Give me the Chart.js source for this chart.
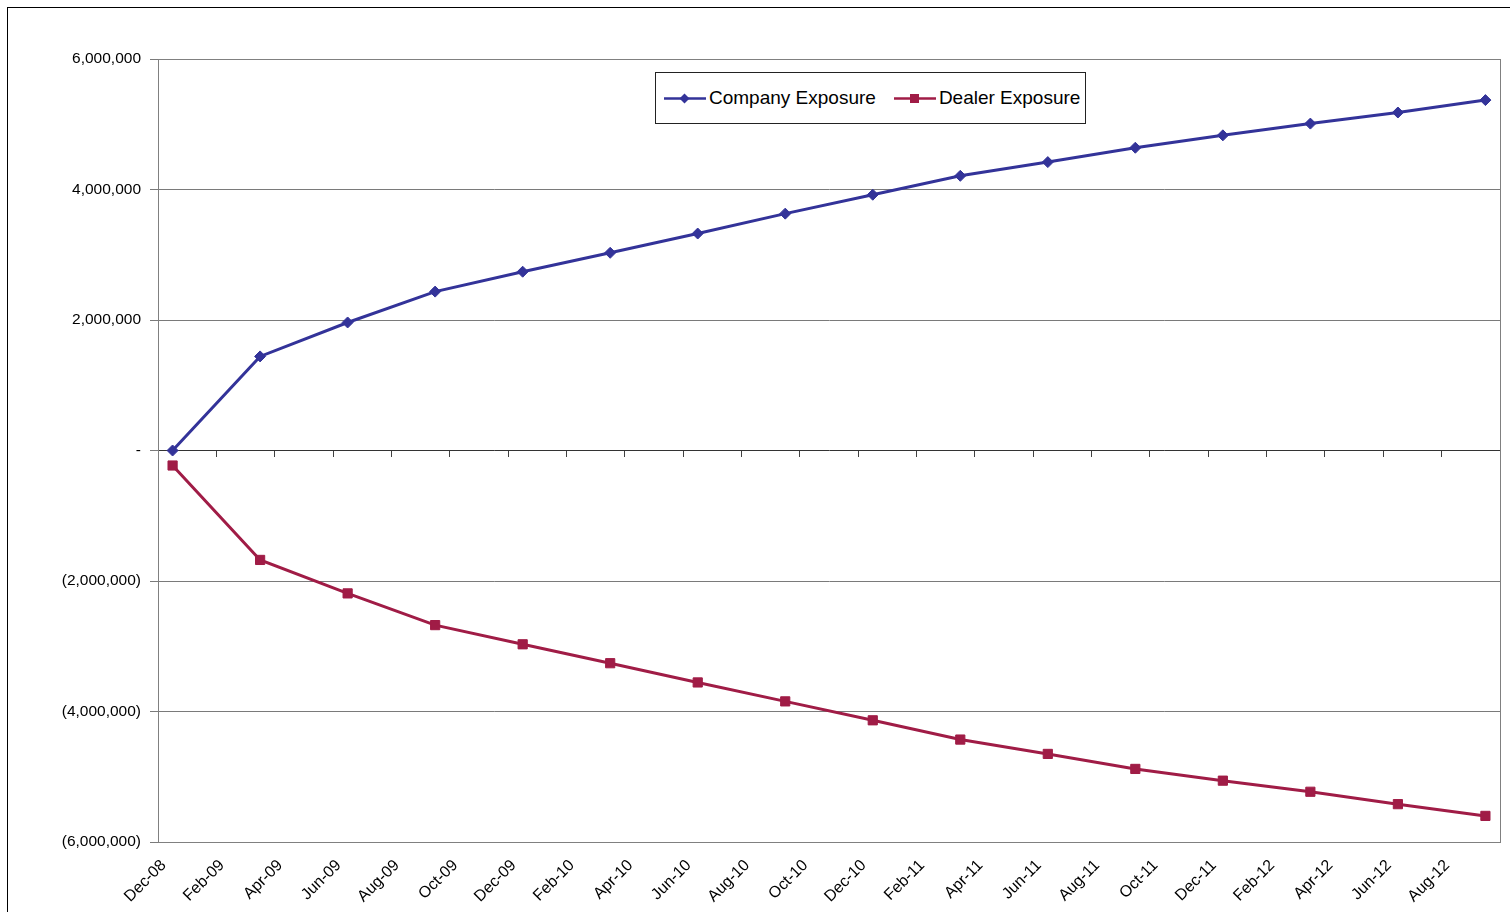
<!DOCTYPE html>
<html>
<head>
<meta charset="utf-8">
<script src="https://cdn.jsdelivr.net/npm/chart.js@4.4.1/dist/chart.umd.min.js"></script>
<style>
  html, body { margin: 0; padding: 0; background: #fff; overflow: hidden; }
  #wrap { position: relative; width: 1510px; height: 912px; }
  #frame { position: absolute; left: 7px; top: 7px; width: 1520px; height: 920px; border: 1px solid #000; }
  #chart { position: absolute; left: 0; top: 0; }
  #legend {
    position: absolute; left: 655px; top: 72px; width: 421px; height: 50px;
    border: 1px solid #222; background: #fff; white-space: nowrap; overflow: hidden;
    display: flex; align-items: center; padding-left: 8px; box-sizing: content-box;
    font-family: 'Liberation Sans', Arial, sans-serif; font-size: 19px; color: #000;
  }
  #legend .item { display: flex; align-items: center; flex-shrink: 0; margin-right: 18px; }
  #legend svg { margin-right: 3px; flex-shrink: 0; }
</style>
</head>
<body>
<div id="wrap">
  <div id="frame"></div>
  <canvas id="chart" width="1510" height="912"></canvas>
  <div id="legend"></div>
</div>
<script>
// month slots on the date axis (Dec-08 .. Sep-12)
const months = [
  'Dec-08',
  'Jan-09','Feb-09','Mar-09','Apr-09','May-09','Jun-09','Jul-09','Aug-09','Sep-09','Oct-09','Nov-09','Dec-09',
  'Jan-10','Feb-10','Mar-10','Apr-10','May-10','Jun-10','Jul-10','Aug-10','Sep-10','Oct-10','Nov-10','Dec-10',
  'Jan-11','Feb-11','Mar-11','Apr-11','May-11','Jun-11','Jul-11','Aug-11','Sep-11','Oct-11','Nov-11','Dec-11',
  'Jan-12','Feb-12','Mar-12','Apr-12','May-12','Jun-12','Jul-12','Aug-12','Sep-12'
];

// quarterly observation dates
const quarters = [
  'Dec-08','Mar-09','Jun-09','Sep-09','Dec-09','Mar-10','Jun-10','Sep-10',
  'Dec-10','Mar-11','Jun-11','Sep-11','Dec-11','Mar-12','Jun-12','Sep-12'
];

const companyExposure = [
  0, 1442000, 1962000, 2435000, 2740000, 3030000, 3325000, 3630000,
  3920000, 4210000, 4420000, 4640000, 4830000, 5010000, 5180000, 5370000
];

const dealerExposure = [
  -230000, -1677000, -2190000, -2676000, -2970000, -3260000, -3555000, -3845000,
  -4135000, -4430000, -4650000, -4880000, -5060000, -5230000, -5420000, -5600000
];

const yTicks = [-6000000, -4000000, -2000000, 0, 2000000, 4000000, 6000000];

const BLUE = '#333399';
const RED  = '#a01c46';
const FONT = "'Liberation Sans', Arial, sans-serif";

function fmtY(v) {
  if (v === 0) return '-';
  const s = Math.abs(v).toLocaleString('en-US');
  return v < 0 ? '(' + s + ')' : s;
}

// grey frame round the plot area
const plotFrame = {
  id: 'plotFrame',
  beforeDatasetsDraw(chart) {
    const a = chart.chartArea, ctx = chart.ctx;
    ctx.save();
    ctx.strokeStyle = '#808080';
    ctx.lineWidth = 1;
    ctx.strokeRect(Math.round(a.left) + 0.5, Math.round(a.top) + 0.5,
                   Math.round(a.right - a.left), Math.round(a.bottom - a.top));
    ctx.restore();
  }
};

const chart = new Chart(document.getElementById('chart'), {
  type: 'line',
  data: {
    labels: months,
    datasets: [
      {
        label: 'Company Exposure',
        data: quarters.map((q, i) => ({ x: q, y: companyExposure[i] })),
        borderColor: BLUE,
        backgroundColor: BLUE,
        borderWidth: 3,
        pointStyle: 'rectRot',
        pointRadius: 5.5,
        pointBorderWidth: 1,
        tension: 0
      },
      {
        label: 'Dealer Exposure',
        data: quarters.map((q, i) => ({ x: q, y: dealerExposure[i] })),
        borderColor: RED,
        backgroundColor: RED,
        borderWidth: 3,
        pointStyle: 'rect',
        pointRadius: 6.5,
        pointBorderWidth: 1,
        tension: 0
      }
    ]
  },
  options: {
    responsive: false,
    animation: false,
    layout: { padding: { top: 59, right: 10, left: 0, bottom: 0 } },
    plugins: {
      legend: { display: false },
      tooltip: { enabled: false }
    },
    scales: {
      x: {
        type: 'category',
        offset: true,
        grid: { display: false, drawTicks: false },
        border: { display: false },
        ticks: {
          autoSkip: false,
          maxRotation: 45,
          minRotation: 45,
          padding: 14,
          labelOffset: -9,
          color: '#000',
          font: { family: FONT, size: 16 },
          callback: function (val, i) { return i % 2 === 0 ? this.getLabelForValue(val) : ''; }
        },
        afterFit: s => { s.height = 70; s.paddingLeft = 0; s.paddingRight = 0; }
      },
      x2: {
        type: 'category',
        axis: 'x',
        position: { y: 0 },
        offset: true,
        grid: {
          display: true,
          offset: true,
          drawOnChartArea: false,
          drawTicks: true,
          tickLength: 6,
          tickColor: ctx => (ctx.index !== undefined && ctx.index % 2 === 0) ? '#404040' : 'rgba(0,0,0,0)'
        },
        border: { display: false },
        ticks: { display: false },
        afterFit: s => { s.paddingLeft = 0; s.paddingRight = 0; }
      },
      y: {
        min: -6000000,
        max: 6000000,
        afterBuildTicks: s => { s.ticks = yTicks.map(v => ({ value: v })); },
        grid: {
          color: ctx => ctx.tick && ctx.tick.value === 0 ? '#333333' : '#7a7a7a',
          lineWidth: 1,
          tickLength: 8,
          tickColor: '#7a7a7a'
        },
        border: { display: true, color: '#808080' },
        ticks: {
          padding: 9,
          color: '#000',
          font: { family: FONT, size: 15.5 },
          callback: v => fmtY(v)
        },
        afterFit: s => { s.width = 158; }
      }
    }
  },
  plugins: [plotFrame]
});

// legend box inside the plot, as in the original
const legendEl = document.getElementById('legend');
chart.data.datasets.forEach(ds => {
  const item = document.createElement('div');
  item.className = 'item';
  const marker = ds.pointStyle === 'rect'
    ? `<rect x="16" y="3" width="9" height="9" fill="${ds.borderColor}"/>`
    : `<polygon points="20.5,2.5 25.5,7.5 20.5,12.5 15.5,7.5" fill="${ds.borderColor}"/>`;
  item.innerHTML =
    `<svg width="42" height="15"><line x1="0" y1="7.5" x2="42" y2="7.5" stroke="${ds.borderColor}" stroke-width="2.5"/>${marker}</svg>` +
    `<span>${ds.label}</span>`;
  legendEl.appendChild(item);
});
</script>
</body>
</html>
